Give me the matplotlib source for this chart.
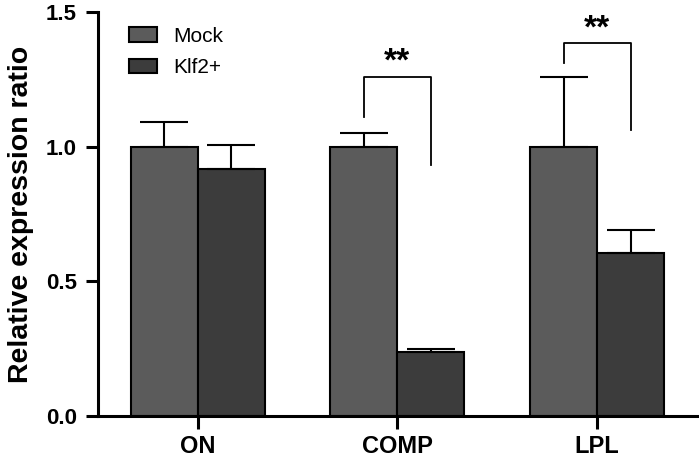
import matplotlib.pyplot as plt
import numpy as np

plt.rcParams['font.family'] = ['Liberation Sans', 'DejaVu Sans']

genes = ['ON', 'COMP', 'LPL']
mock = [1.0, 1.0, 1.0]
mock_err = [0.093, 0.052, 0.26]
klf2 = [0.915, 0.238, 0.606]
klf2_err = [0.092, 0.011, 0.085]

fig = plt.figure(figsize=(6.99, 4.59), dpi=100)
ax = fig.add_axes([0.140, 0.094, 0.857, 0.880])

x = np.arange(len(genes))
w = 0.335
ax.bar(x - w / 2, mock, w, color='#5b5b5b', edgecolor='black', linewidth=1.5,
       label='Mock', yerr=[np.zeros(3), mock_err], capsize=17,
       error_kw=dict(elinewidth=1.5, capthick=1.5, ecolor='black'))
ax.bar(x + w / 2, klf2, w, color='#3c3c3c', edgecolor='black', linewidth=1.5,
       label='Klf2+', yerr=[np.zeros(3), klf2_err], capsize=17,
       error_kw=dict(elinewidth=1.5, capthick=1.5, ecolor='black'))

# significance brackets
def bracket(x0, x1, y_left, y_top, y_right, text):
    ax.plot([x0, x0, x1, x1], [y_left, y_top, y_top, y_right], color='black', lw=1.3)
    ax.text((x0 + x1) / 2, y_top - 0.005, text, ha='center', va='bottom',
            fontsize=24, fontweight='bold')

bracket(1 - w / 2, 1 + w / 2, 1.11, 1.26, 0.93, '**')
bracket(2 - w / 2, 2 + w / 2, 1.31, 1.385, 1.06, '**')

ax.set_xlim(-0.5, 2.5)
ax.set_ylim(0, 1.5)
ax.set_yticks([0.0, 0.5, 1.0, 1.5])
ax.set_yticklabels(['0.0', '0.5', '1.0', '1.5'])
ax.set_xticks(x)
ax.set_xticklabels(genes)
ax.set_ylabel('Relative expression ratio', fontsize=20.5, fontweight='bold', labelpad=9)

for s in ['top', 'right']:
    ax.spines[s].set_visible(False)
for s in ['left', 'bottom']:
    ax.spines[s].set_linewidth(2.2)
ax.tick_params(axis='y', direction='out', length=9, width=2.2, labelsize=16, pad=6)
ax.tick_params(axis='x', direction='out', length=9, width=2.2, labelsize=17, pad=5)
for lab in ax.get_xticklabels() + ax.get_yticklabels():
    lab.set_fontweight('bold')

ax.legend(loc='upper left', bbox_to_anchor=(0.02, 1.01), frameon=False, fontsize=15,
          handlelength=1.35, handleheight=0.7, handletextpad=0.8, labelspacing=0.6)

fig.savefig('out.png', dpi=100)
